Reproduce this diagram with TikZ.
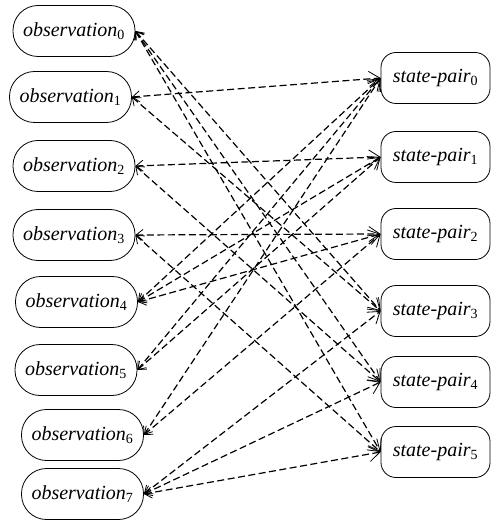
\documentclass[tikz,border=0pt]{standalone}
\usepackage{fontspec}
\setmainfont{Liberation Serif}
\usepackage{tikz}
\usetikzlibrary{arrows.meta, positioning}

\tikzset{
  obsbox/.style={draw, line width=0.8pt, rounded corners=25pt, minimum width=122pt, minimum height=51pt,
    inner sep=0pt, font=\fontsize{20}{24}\selectfont},
  pairbox/.style={draw, line width=0.8pt, rounded corners=15pt, minimum width=109pt, minimum height=51pt,
    inner sep=0pt, font=\fontsize{20}{24}\selectfont},
  link/.style={line width=1.2pt, dash pattern=on 7pt off 3.5pt,
    {Straight Barb[length=7pt,width=11pt,line width=0.8pt]}-{Straight Barb[length=11pt,width=15pt,line width=0.8pt]}}
}

\begin{document}
\begin{tikzpicture}[x=1pt,y=-1pt]
  \useasboundingbox (0,0) rectangle (493,526);

  % observations (gauche)
  \foreach \i/\x/\y in {0/74/31, 1/70.5/97, 2/74/166, 3/74/235, 4/76.5/302, 5/76/370, 6/82.5/435, 7/82.5/494} {
    \node[obsbox] (obs\i) at (\x,\y) {\textit{observation}\textsubscript{\upshape\i}};
  }

  % state-pairs (droite)
  \foreach \j/\y in {0/78, 1/157, 2/234, 3/311, 4/382, 5/452} {
    \node[pairbox] (pair\j) at (435.5,\y) {\textit{state-pair}\textsubscript{\upshape\j}};
  }

  % liens
  \foreach \i/\j in {0/3, 0/4, 0/5, 1/0, 1/3, 2/1, 2/4, 3/2, 3/5,
                     4/0, 4/1, 4/2, 5/0, 5/1, 6/0, 6/2, 7/3, 7/4, 7/5} {
    \draw[link] (obs\i.east) -- (pair\j.west);
  }
\end{tikzpicture}
\end{document}
